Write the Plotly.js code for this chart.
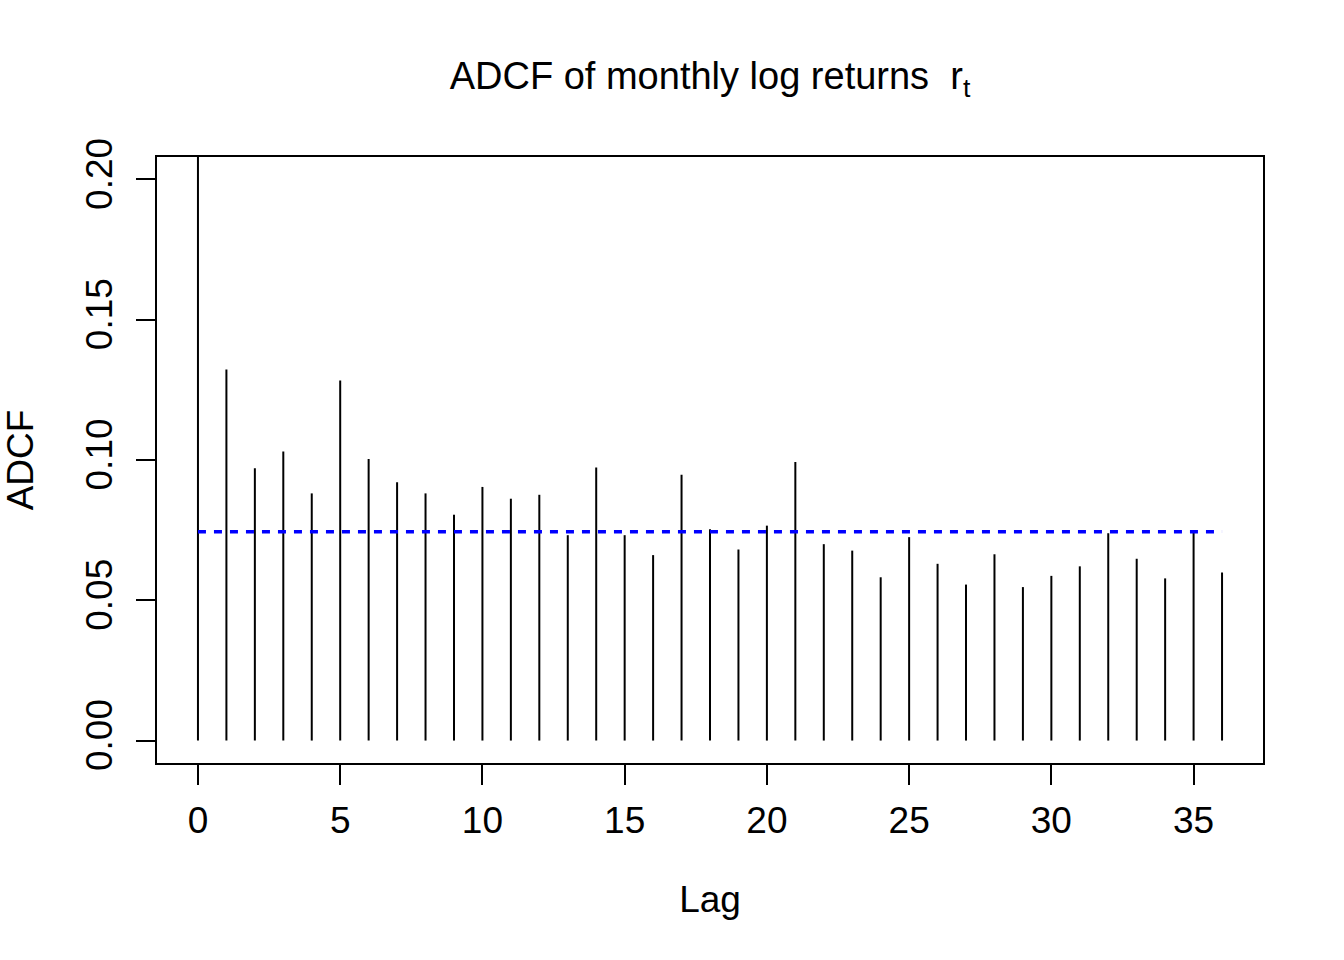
<!DOCTYPE html>
<html>
<head>
<meta charset="utf-8">
<script src="https://cdn.plot.ly/plotly-3.0.1.min.js"></script>
<style>html,body{margin:0;padding:0;background:#fff;}#chart{width:1344px;height:960px;}</style>
</head>
<body>
<div id="chart"></div>
<script>
const lags = [0,1,2,3,4,5,6,7,8,9,10,11,12,13,14,15,16,17,18,19,20,21,22,23,24,25,26,27,28,29,30,31,32,33,34,35,36];
const adcf = [1.0,0.1323,0.0971,0.1030,0.0881,0.1283,0.1004,0.0921,0.0881,0.0805,0.0904,0.0862,0.0876,0.0732,0.0973,0.0732,0.0661,0.0947,0.0753,0.0681,0.0766,0.0993,0.0700,0.0677,0.0582,0.0725,0.0630,0.0556,0.0664,0.0547,0.0587,0.0621,0.0739,0.0648,0.0578,0.0741,0.0599];
const thresholdLag = [0, 36];
const threshold = [0.0744, 0.0744];
const yTicks = [0, 0.05, 0.10, 0.15, 0.20];
const yTickLabels = ["0.00", "0.05", "0.10", "0.15", "0.20"];
const xTicks = [0, 5, 10, 15, 20, 25, 30, 35];

const sx = [], sy = [];
lags.forEach((l, i) => { sx.push(l, l, null); sy.push(0, adcf[i], null); });

const font = "Liberation Sans, Arial, Helvetica, sans-serif";
const traces = [
  {x: sx, y: sy, type: 'scatter', mode: 'lines', line: {color: '#000', width: 2}, hoverinfo: 'skip'},
  {x: thresholdLag, y: threshold, type: 'scatter', mode: 'lines', line: {color: '#0000ff', width: 3.4, dash: '8px,8px'}, hoverinfo: 'skip'}
];
const layout = {
  width: 1344, height: 960,
  margin: {l: 157, r: 81, t: 157, b: 197},
  paper_bgcolor: '#fff', plot_bgcolor: '#fff',
  showlegend: false,
  font: {family: font, size: 37, color: '#000'},
  title: {text: 'ADCF of monthly log returns  r<sub>t</sub>', xref: 'paper', x: 0.5, xanchor: 'center', y: 0.921, yanchor: 'middle', font: {family: font, size: 38, color: '#000'}},
  xaxis: {
    range: [-1.44, 37.44], showgrid: false, zeroline: false,
    showline: true, linecolor: '#000', linewidth: 2, mirror: true,
    ticks: 'outside', ticklen: 20, tickwidth: 2, tickcolor: '#000',
    tickvals: xTicks, ticktext: xTicks.map(String), tickfont: {size: 37},
    ticklabelstandoff: 4,
    title: {text: 'Lag', font: {size: 37}, standoff: 46}
  },
  yaxis: {
    range: [-0.008, 0.208], showgrid: false, zeroline: false,
    showline: true, linecolor: '#000', linewidth: 2, mirror: true,
    ticks: 'outside', ticklen: 19, tickwidth: 2, tickcolor: '#000',
    tickvals: yTicks, ticktext: yTickLabels, tickangle: -90, tickfont: {size: 37},
    ticklabelstandoff: 9,
    title: {text: 'ADCF', font: {size: 37}, standoff: 36}
  }
};
Plotly.newPlot('chart', traces, layout, {displayModeBar: false, staticPlot: true});
</script>
</body>
</html>
